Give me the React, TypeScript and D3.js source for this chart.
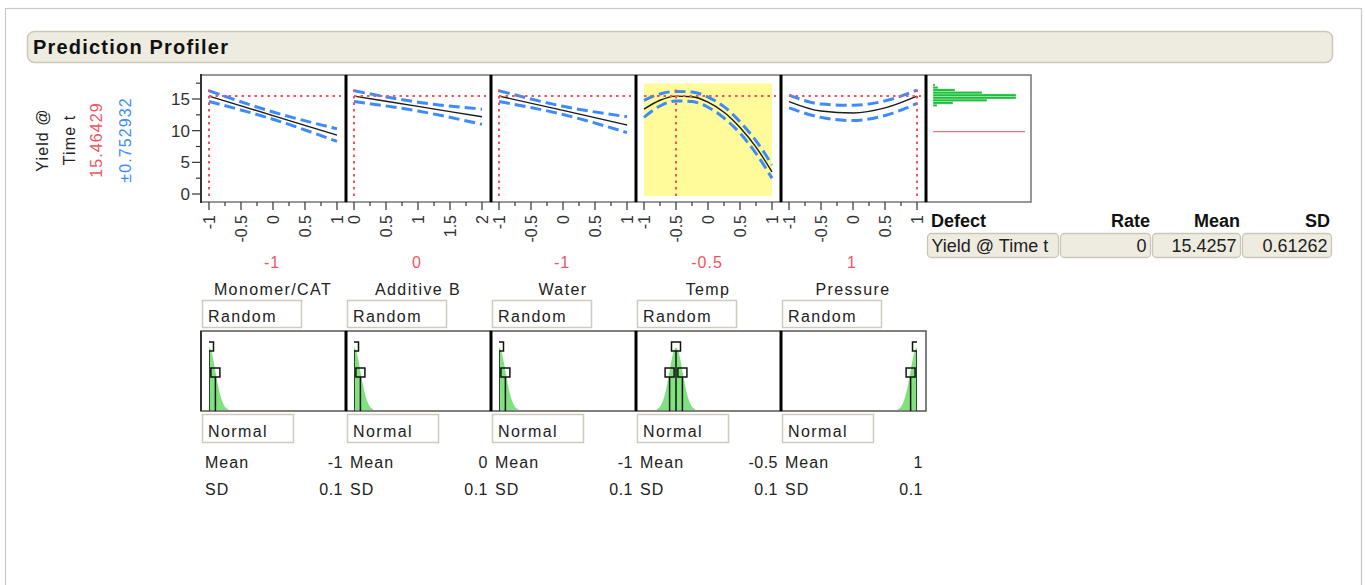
import React from 'react';
import * as d3 from 'd3';

// profiler factors
const factorNames = ['Monomer/CAT', 'Additive B', 'Water', 'Temp', 'Pressure'];
const factorDomains: [number, number][] = [[-1, 1], [0, 2], [-1, 1], [-1, 1], [-1, 1]];
const currentSettings = [-1, 0, -1, -0.5, 1];
const currentLabels = ['-1', '0', '-1', '-0.5', '1'];

const predictedValue = 15.46429;
const predictedLabel = '15.46429';
const intervalLabel = '\u00b10.752932';

// profile traces (x, prediction, lower / upper CI)
const traceX = [
  [-1, 0, 1],
  [0, 1, 2],
  [-1, 0, 1],
  [-1, -0.75, -0.5, -0.25, 0, 0.25, 0.5, 0.75, 1],
  [-1, -0.5, 0, 0.5, 1],
];
const traceY = [
  [15.46, 12.38, 9.3],
  [15.46, 13.83, 12.2],
  [15.46, 13.2, 10.9],
  [13.4, 14.8, 15.46, 15.36, 14.5, 12.9, 10.5, 7.4, 3.5],
  [14.6, 13.1, 12.8, 13.6, 15.46],
];
const traceLo = [
  [14.6, 11.8, 8.3],
  [14.6, 13.1, 11.0],
  [14.6, 12.55, 9.7],
  [12.1, 13.9, 14.7, 14.6, 13.7, 12.0, 9.6, 6.4, 2.5],
  [13.6, 12.1, 11.6, 12.4, 14.3],
];
const traceHi = [
  [16.3, 12.95, 10.3],
  [16.3, 14.5, 13.4],
  [16.3, 13.85, 12.2],
  [14.8, 15.8, 16.2, 16.1, 15.3, 13.8, 11.4, 8.4, 4.6],
  [15.6, 14.2, 14.0, 14.7, 16.4],
];

// simulated response histogram
const histEdges = [13.8, 14.2, 14.6, 15.0, 15.4, 15.8, 16.2, 16.6, 17.0, 17.4];
const histCounts = [4, 20, 54, 83, 83, 49, 22, 5, 2];
const specLimit = 9.85;

// simulator inputs
const randomLabels = ['Random', 'Random', 'Random', 'Random', 'Random'];
const distNames = ['Normal', 'Normal', 'Normal', 'Normal', 'Normal'];
const simMeans = [-1, 0, -1, -0.5, 1];
const simMeanLabels = ['-1', '0', '-1', '-0.5', '1'];
const simSDs = [0.1, 0.1, 0.1, 0.1, 0.1];
const simSDLabels = ['0.1', '0.1', '0.1', '0.1', '0.1'];
// normal shape, offsets in SD units and relative height
const densOffsets = [-3, -2.5, -2, -1.5, -1, -0.5, 0, 0.5, 1, 1.5, 2, 2.5, 3];
const densHeights = [0.01, 0.04, 0.14, 0.32, 0.6, 0.88, 1, 0.88, 0.6, 0.32, 0.14, 0.04, 0.01];

// defect table
const defectHeaders = ['Defect', 'Rate', 'Mean', 'SD'];
const defectRow = ['Yield @ Time t', '0', '15.4257', '0.61262'];

const RED = '#F2545E';
const BLUE = '#3D8BFF';
const FONT = "'Liberation Sans', Arial, Helvetica, sans-serif";

const P_LEFT = 201;
const P_W = 145;
const P_TOP = 75;
const P_BOT = 202;
const S_TOP = 331;
const S_BOT = 411;

export default function App() {
  const y = d3.scaleLinear().domain([0, 15]).range([194, 99]);
  const yTicks = d3.range(0, 18.5, 2.5);

  const line = (xs: d3.ScaleLinear<number, number>, xv: number[], yv: number[]) =>
    d3.line<number>().x((_, i) => xs(xv[i])).y((d) => y(d)).curve(d3.curveMonotoneX)(yv) || '';

  const hx = d3.scaleLinear().domain([0, 83]).range([933, 1016]);
  const densY = d3.scaleLinear().domain([0, 1]).range([S_BOT - 1, 345]);

  const labelStyle = { fontSize: 16, letterSpacing: 1.4 } as React.CSSProperties;

  return (
    <svg width={1365} height={585} style={{ position: 'absolute', left: 0, top: 0, fontFamily: FONT }}>
      <defs>
        {factorNames.map((_, i) => {
          const left = P_LEFT + i * P_W;
          return (
            <clipPath id={`clip${i}`} key={i}>
              <rect x={left + 8} y={S_TOP} width={128} height={S_BOT - S_TOP} />
            </clipPath>
          );
        })}
      </defs>
      <rect x={0} y={0} width={1365} height={585} fill="#fff" />
      <rect x={5.5} y={8.5} width={1356} height={620} fill="none" stroke="#C8C8C8" strokeWidth={1.2} />

      {/* title bar */}
      <rect x={27.5} y={31.5} width={1305} height={31} rx={7} fill="#EEEBE1" stroke="#CBC7B8" strokeWidth={1.5} />
      <text x={33} y={54} fontWeight="bold" fill="#111" style={{ fontSize: 20, letterSpacing: 1.2 }}>Prediction Profiler</text>

      {/* response labels */}
      {[
        { t: 'Yield @', x: 42, c: '#222' },
        { t: 'Time t', x: 69, c: '#222' },
        { t: predictedLabel, x: 96, c: RED },
        { t: intervalLabel, x: 125, c: BLUE },
      ].map((d) => (
        <text key={d.t} transform={`translate(${d.x},140) rotate(-90)`} textAnchor="middle" dy="0.35em"
          fill={d.c} style={{ fontSize: 16, letterSpacing: 1.1 }}>{d.t}</text>
      ))}

      {/* y axis */}
      {yTicks.map((v) => {
        const major = v % 5 === 0;
        return (
          <g key={v}>
            <line x1={P_LEFT - (major ? 9 : 5)} x2={P_LEFT} y1={y(v)} y2={y(v)} stroke="#333" strokeWidth={1.2} />
            {major && (
              <text x={190} y={y(v)} dy="0.35em" textAnchor="end" fontSize={17} fill="#333">{v}</text>
            )}
          </g>
        );
      })}

      {/* profile panels */}
      {factorNames.map((name, i) => {
        const left = P_LEFT + i * P_W;
        const dom = factorDomains[i];
        const xs = d3.scaleLinear().domain(dom).range([left + 8, left + 136]);
        const ticks = d3.range(dom[0], dom[1] + 0.01, 0.25);
        const cx = xs(currentSettings[i]);
        return (
          <g key={name}>
            <rect x={left} y={P_TOP} width={P_W} height={P_BOT - P_TOP} fill="#fff" stroke="#777" strokeWidth={1.5} />
            {i === 3 && (
              <rect x={xs(dom[0])} y={y(17.45)} width={xs(dom[1]) - xs(dom[0])} height={y(-0.3) - y(17.45)} fill="#FFFA9A" />
            )}
            <path d={line(xs, traceX[i], traceLo[i])} fill="none" stroke={BLUE} strokeWidth={3} strokeDasharray="11,5" />
            <path d={line(xs, traceX[i], traceHi[i])} fill="none" stroke={BLUE} strokeWidth={3} strokeDasharray="11,5" />
            <path d={line(xs, traceX[i], traceY[i])} fill="none" stroke="#1a1a1a" strokeWidth={1.4} />
            <line x1={xs(dom[0])} x2={xs(dom[1]) + 4} y1={y(predictedValue)} y2={y(predictedValue)}
              stroke={RED} strokeWidth={2} strokeDasharray="2.5,4" />
            <line x1={cx} x2={cx} y1={y(16.5)} y2={y(-0.4)} stroke={RED} strokeWidth={2} strokeDasharray="2.5,4" />
            {/* x axis */}
            {ticks.map((t) => {
              const major = Math.abs(t * 2 - Math.round(t * 2)) < 1e-6;
              return (
                <g key={t}>
                  <line x1={xs(t)} x2={xs(t)} y1={P_BOT} y2={P_BOT + (major ? 8 : 4)} stroke="#333" strokeWidth={1.2} />
                  {major && (
                    <text transform={`translate(${xs(t)},215) rotate(-90)`} textAnchor="end" dy="0.35em"
                      fontSize={16} fill="#333">{String(Math.round(t * 10) / 10)}</text>
                  )}
                </g>
              );
            })}
            <text x={left + 71} y={268} textAnchor="middle" fill={RED} style={{ fontSize: 16, letterSpacing: 1 }}>
              {currentLabels[i]}
            </text>
            <text x={left + 72} y={295} textAnchor="middle" fill="#222" style={labelStyle}>{name}</text>
          </g>
        );
      })}

      {/* histogram panel */}
      <rect x={926} y={P_TOP} width={105} height={P_BOT - P_TOP} fill="#fff" stroke="#777" strokeWidth={1.5} />
      {histCounts.map((c, i) => (
        <rect key={i} x={hx(0)} y={y(histEdges[i + 1])} width={hx(c) - hx(0)}
          height={y(histEdges[i]) - y(histEdges[i + 1])} fill="#1DBE3A" stroke="#DDF5E0" strokeWidth={0.4} />
      ))}
      <line x1={933} x2={1025} y1={y(specLimit)} y2={y(specLimit)} stroke="#F07078" strokeWidth={1.3} />

      {/* separators */}
      <line x1={P_LEFT} x2={P_LEFT} y1={P_TOP - 1} y2={P_BOT + 1} stroke="#333" strokeWidth={2} />
      {[1, 2, 3, 4, 5].map((k) => (
        <line key={k} x1={P_LEFT + k * P_W} x2={P_LEFT + k * P_W} y1={P_TOP} y2={P_BOT}
          stroke="#000" strokeWidth={3} />
      ))}

      {/* defect table */}
      {defectHeaders.map((h, i) => {
        const xr = [931, 1150, 1240, 1330][i];
        return (
          <text key={h} x={xr} y={227} textAnchor={i === 0 ? 'start' : 'end'} fontSize={18} fontWeight="bold" fill="#111">{h}</text>
        );
      })}
      {defectRow.map((v, i) => {
        const bx = [927.5, 1060.5, 1152.5, 1242.5][i];
        const bw = [131, 90, 88, 89][i];
        return (
          <g key={i}>
            <rect x={bx} y={233.5} width={bw} height={24} rx={4} fill="#EEEBE1" stroke="#CBC7B8" strokeWidth={1.3} />
            <text x={i === 0 ? bx + 4 : bx + bw - 4} y={252} textAnchor={i === 0 ? 'start' : 'end'} fontSize={18} fill="#222">{v}</text>
          </g>
        );
      })}

      {/* simulator inputs */}
      {factorNames.map((name, i) => {
        const left = P_LEFT + i * P_W;
        const dom = factorDomains[i];
        const xs = d3.scaleLinear().domain(dom).range([left + 8, left + 136]);
        const m = simMeans[i];
        const sd = simSDs[i];
        const area = d3.area<number>()
          .x((d) => xs(m + d * sd))
          .y0(S_BOT - 1)
          .y1((_, k) => densY(densHeights[k]))
          .curve(d3.curveBasis)(densOffsets) || '';
        const handles = [
          { x: xs(m), y: 346.5 },
          { x: xs(m - sd), y: 372.5 },
          { x: xs(m + sd), y: 372.5 },
        ];
        return (
          <g key={name}>
            <rect x={left + 1.5} y={300.5} width={99} height={27} fill="#fff" stroke="#CFCBBE" strokeWidth={1.5} />
            <text x={left + 7} y={322} fill="#222" style={labelStyle}>{randomLabels[i]}</text>

            <rect x={left} y={S_TOP} width={P_W} height={S_BOT - S_TOP} fill="#fff" stroke="#555" strokeWidth={1.5} />
            <g clipPath={`url(#clip${i})`}>
              <path d={area} fill="#80E27E" />
              {handles.map((h, k) => (
                <g key={k}>
                  <line x1={h.x} x2={h.x} y1={h.y + 4.5} y2={S_BOT} stroke="#111" strokeWidth={1.5} />
                  <rect x={h.x - 4.5} y={h.y - 4.5} width={9} height={9} fill="none" stroke="#111" strokeWidth={1.5} />
                </g>
              ))}
            </g>

            <rect x={left + 1.5} y={414.5} width={91} height={28} fill="#fff" stroke="#CFCBBE" strokeWidth={1.5} />
            <text x={left + 7} y={437} fill="#222" style={labelStyle}>{distNames[i]}</text>

            <text x={left + 4} y={468} fill="#222" style={{ fontSize: 16, letterSpacing: 1 }}>Mean</text>
            <text x={left + P_W - 3} y={468} textAnchor="end" fill="#222" style={{ fontSize: 16, letterSpacing: 0.5 }}>{simMeanLabels[i]}</text>
            <text x={left + 4} y={495} fill="#222" style={{ fontSize: 16, letterSpacing: 1 }}>SD</text>
            <text x={left + P_W - 3} y={495} textAnchor="end" fill="#222" style={{ fontSize: 16, letterSpacing: 0.5 }}>{simSDLabels[i]}</text>
          </g>
        );
      })}
      <line x1={P_LEFT} x2={P_LEFT} y1={S_TOP} y2={S_BOT} stroke="#333" strokeWidth={2} />
      {[1, 2, 3, 4].map((k) => (
        <line key={k} x1={P_LEFT + k * P_W} x2={P_LEFT + k * P_W} y1={S_TOP} y2={S_BOT} stroke="#000" strokeWidth={3} />
      ))}
    </svg>
  );
}
